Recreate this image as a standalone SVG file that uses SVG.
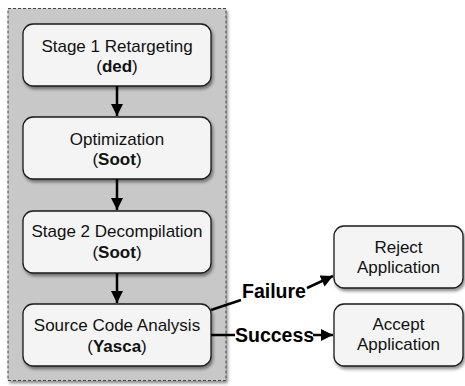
<svg xmlns="http://www.w3.org/2000/svg" width="465" height="386" viewBox="0 0 465 386">
<style>
.box{fill:#f4f4f4;stroke:#1a1a1a;stroke-width:1.3}
.t{font-family:"Liberation Sans",Arial,sans-serif;font-size:17px;fill:#111;text-anchor:middle}
.b{font-weight:bold}
.lbl{font-family:"Liberation Sans",Arial,sans-serif;font-size:19.5px;font-weight:bold;fill:#000}
.c{stroke:#000;stroke-width:2.5;fill:none}
</style>
<defs>
<filter id="sh" x="-10%" y="-10%" width="130%" height="140%">
<feDropShadow dx="1.5" dy="2.5" stdDeviation="1.5" flood-color="#000" flood-opacity="0.45"/>
</filter>
<marker id="ah" viewBox="0 0 10 10" refX="10" refY="5" markerWidth="5" markerHeight="4.8" markerUnits="strokeWidth" orient="auto">
<path d="M0,0 L10,5 L0,10 z" fill="#000"/>
</marker>
</defs>
<g id="container">
<rect x="8" y="8.5" width="218" height="372" fill="#c8c8c8" stroke="#444" stroke-width="1" stroke-dasharray="3,2" filter="url(#sh)"/>
</g>
<g id="n1">
<rect class="box" x="23" y="24" width="188" height="62" rx="10" filter="url(#sh)"/>
<text class="t" x="117" y="52">Stage 1 Retargeting</text>
<text class="t" x="117" y="72">(<tspan class="b">ded</tspan>)</text>
</g>
<g id="n2">
<rect class="box" x="23" y="117" width="188" height="62" rx="10" filter="url(#sh)"/>
<text class="t" x="117" y="145">Optimization</text>
<text class="t" x="117" y="165">(<tspan class="b">Soot</tspan>)</text>
</g>
<g id="n3">
<rect class="box" x="23" y="211" width="188" height="62" rx="10" filter="url(#sh)"/>
<text class="t" x="117" y="237">Stage 2 Decompilation</text>
<text class="t" x="117" y="258">(<tspan class="b">Soot</tspan>)</text>
</g>
<g id="n4">
<rect class="box" x="23" y="304" width="188" height="62" rx="10" filter="url(#sh)"/>
<text class="t" x="117" y="331">Source Code Analysis</text>
<text class="t" x="117" y="352">(<tspan class="b">Yasca</tspan>)</text>
</g>
<g id="reject">
<rect class="box" x="334" y="226" width="129" height="62" rx="10" filter="url(#sh)"/>
<text class="t" x="398.5" y="253">Reject</text>
<text class="t" x="398.5" y="273">Application</text>
</g>
<g id="accept">
<rect class="box" x="334" y="304" width="129" height="62" rx="10" filter="url(#sh)"/>
<text class="t" x="398.5" y="330">Accept</text>
<text class="t" x="398.5" y="350">Application</text>
</g>
<g id="connectors">
<line class="c" x1="117" y1="86" x2="117" y2="116" marker-end="url(#ah)"/>
<line class="c" x1="117" y1="179" x2="117" y2="210" marker-end="url(#ah)"/>
<line class="c" x1="117" y1="273" x2="117" y2="303" marker-end="url(#ah)"/>
<line class="c" x1="211" y1="310" x2="241" y2="300"/>
<line class="c" x1="307" y1="288" x2="333" y2="276" marker-end="url(#ah)"/>
<line class="c" x1="211" y1="335" x2="235" y2="335"/>
<line class="c" x1="313" y1="335" x2="333" y2="335" marker-end="url(#ah)"/>
<text class="lbl" x="242" y="298">Failure</text>
<text class="lbl" x="235" y="342">Success</text>
</g>
</svg>
